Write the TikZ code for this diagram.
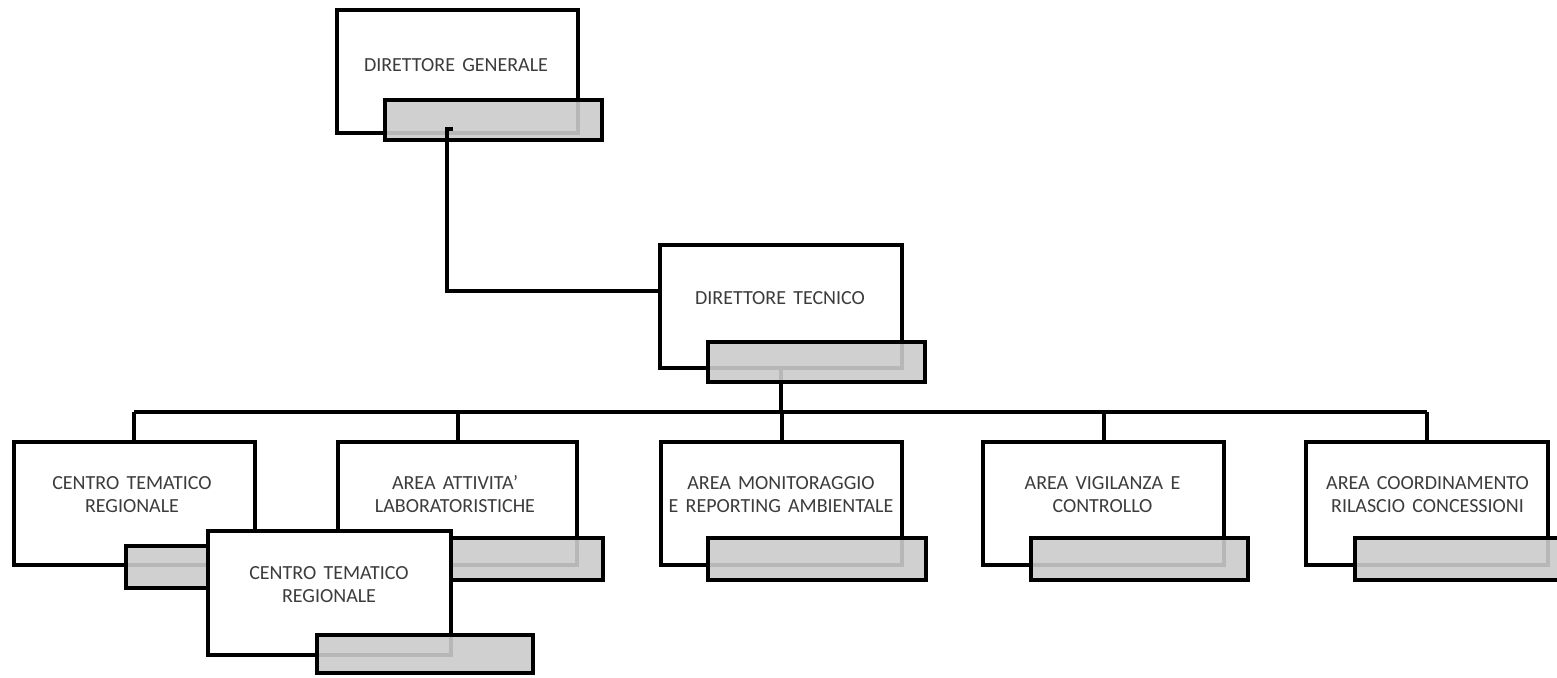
\documentclass[tikz,border=0pt]{standalone}
\usepackage{fontspec}
\setmainfont[WordSpace=1.6]{Carlito}
\definecolor{boxgray}{RGB}{203,203,203}
\definecolor{txt}{RGB}{60,60,60}
\begin{document}
\begin{tikzpicture}[x=1pt,y=-1pt,
  wbox/.style={draw=black,line width=4pt,fill=white,inner sep=0pt,minimum width=241pt,minimum height=123pt},
  gbox/.style={draw=black,line width=4pt,fill=boxgray,fill opacity=0.9,draw opacity=1,inner sep=0pt,minimum width=217pt,minimum height=42pt},
  lbl/.style={font=\fontsize{20}{23}\selectfont,text=txt,align=center,inner sep=0pt},
  conn/.style={draw=black,line width=4pt}]
\useasboundingbox (0,0) rectangle (1557,677);
\clip (0,0) rectangle (1557,677);

% second row
\node[wbox] (ctr1) at (134,503.5) {};
\node[gbox] (ctr1g) at (234.5,567) {};
\node[lbl] (ctr1t) at (132,494.5) {CENTRO TEMATICO\\REGIONALE};

\node[wbox,minimum width=239pt] (aal) at (457.5,503.5) {};
\node[gbox] (aalg) at (494.5,559) {};
\node[lbl] (aalt) at (455,494.5) {AREA ATTIVITA’\\LABORATORISTICHE};

\node[wbox] (amr) at (781.5,503.5) {};
\node[gbox,minimum width=218pt] (amrg) at (817,559) {};
\node[lbl] (amrt) at (781,494.5) {AREA MONITORAGGIO\\E REPORTING AMBIENTALE};

\node[wbox] (avc) at (1103.5,503.5) {};
\node[gbox] (avcg) at (1139.5,559) {};
\node[lbl] (avct) at (1102.5,494.5) {AREA VIGILANZA E\\CONTROLLO};

\node[wbox,minimum width=242pt] (acr) at (1427,503.5) {};
\node[gbox] (acrg) at (1463.5,559) {};
\node[lbl] (acrt) at (1427.5,494.5) {AREA COORDINAMENTO\\RILASCIO CONCESSIONI};

% overlapping box
\node[wbox,minimum width=243pt,minimum height=124pt] (ctr2) at (329.5,593) {};
\node[gbox,minimum width=216pt,minimum height=38pt] (ctr2g) at (425,654) {};
\node[lbl] (ctr2t) at (329,585) {CENTRO TEMATICO\\REGIONALE};

% top
\node[wbox] (dg) at (457.5,71.5) {};
\node[gbox,minimum height=40pt] (dgg) at (493.5,120) {};
\node[lbl] (dgt) at (456,65) {DIRETTORE GENERALE};

\node[wbox,minimum width=242pt] (dt) at (781,306.5) {};
\node[lbl] (dtt) at (780,298) {DIRETTORE TECNICO};

% connectors below direttore tecnico
\coordinate (bus) at (781,412);
\draw[conn] (dt.south) -- (bus);
\draw[conn] (ctr1.north |- bus) -- (acr.north |- bus);
\draw[conn] (ctr1.north |- bus) -- (ctr1.north);
\draw[conn] (aal.north |- bus) -- (aal.north);
\draw[conn] (amr.north |- bus) -- (amr.north);
\draw[conn] (avc.north |- bus) -- (avc.north);
\draw[conn] (acr.north |- bus) -- (acr.north);

\node[gbox,minimum height=40pt] (dtg) at (816.5,362) {};

% connector direttore generale -> direttore tecnico
\coordinate (dgc) at (453,129);
\draw[conn] (dgc) -- ++(-6,0) |- ([yshift=15.5pt]dt.west);
\end{tikzpicture}
\end{document}
